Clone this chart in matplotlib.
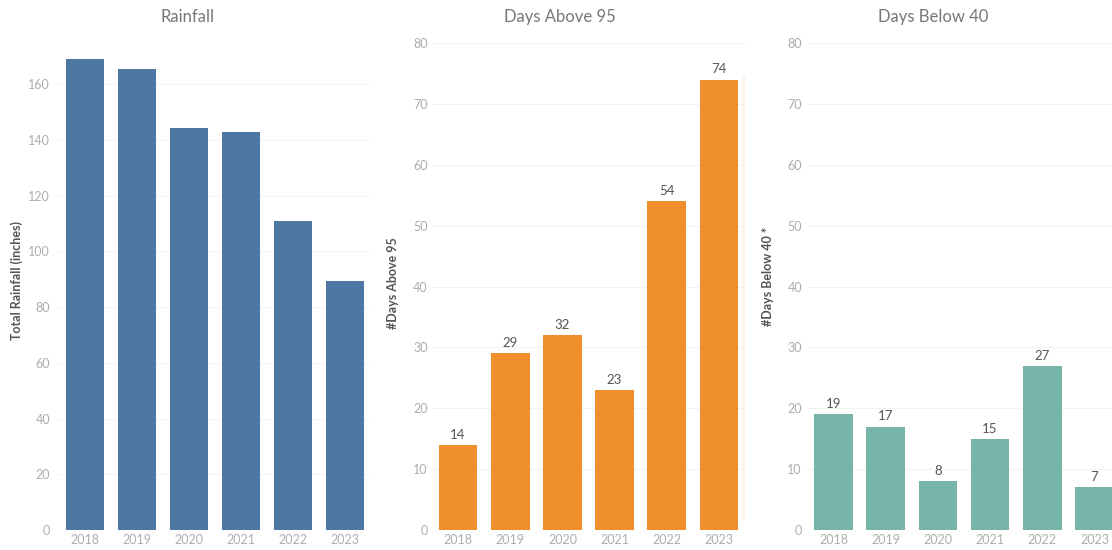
import matplotlib.pyplot as plt
from matplotlib.lines import Line2D

years = ['2018', '2019', '2020', '2021', '2022', '2023']
rainfall = [169, 165.5, 144.5, 143, 111, 89.5]
days_above_95 = [14, 29, 32, 23, 54, 74]
days_below_40 = [19, 17, 8, 15, 27, 7]

plt.rcParams['font.family'] = ['Lato', 'DejaVu Sans']

W, H = 1112, 550
fig = plt.figure(figsize=(W / 100, H / 100), dpi=100)
fig.patch.set_facecolor('white')


def make_axes(left, right, top=37, bottom=530):
    # pixel box -> figure fractions
    return fig.add_axes([left / W, 1 - bottom / H, (right - left) / W, (bottom - top) / H])


def style_axes(ax, ymax, ticks, ypad):
    ax.set_xlim(-0.5, 5.5)
    ax.set_ylim(0, ymax)
    ax.set_yticks(ticks)
    ax.set_xticks(range(len(years)))
    ax.set_xticklabels(years)
    for s in ax.spines.values():
        s.set_visible(False)
    ax.tick_params(axis='both', length=0, colors='#adadad', labelsize=9)
    ax.tick_params(axis='y', pad=ypad)
    ax.tick_params(axis='x', pad=3)
    ax.grid(axis='y', color='#f3f3f3', linewidth=0.8)
    ax.set_axisbelow(True)


# Rainfall
ax1 = make_axes(58.5, 371)
ax1.bar(range(len(years)), rainfall, width=0.73, color='#4e78a3')
style_axes(ax1, 177, range(0, 161, 20), 6)

# Days above 95
ax2 = make_axes(432, 745)
bars2 = ax2.bar(range(len(years)), days_above_95, width=0.74, color='#ef8e2d')
style_axes(ax2, 81, range(0, 81, 10), 3)
ax2.bar_label(bars2, labels=[str(v) for v in days_above_95], padding=3,
              fontsize=9.5, color='#555555')

# Days below 40
ax3 = make_axes(807.5, 1120.5)
bars3 = ax3.bar(range(len(years)), days_below_40, width=0.74, color='#76b3a9')
style_axes(ax3, 81, range(0, 81, 10), 4)
ax3.bar_label(bars3, labels=[str(v) for v in days_below_40], padding=3,
              fontsize=9.5, color='#555555')

# sheet titles
for x, t in [(188, 'Rainfall'), (560, 'Days Above 95'), (933, 'Days Below 40')]:
    fig.text(x / W, 1 - 17 / H, t, ha='center', va='center', fontsize=12, color='#777777')

# axis titles
for x, y, t in [(17, 281, 'Total Rainfall (inches)'),
                (393, 283, '#Days Above 95'),
                (768, 276, '#Days Below 40 *')]:
    fig.text(x / W, 1 - y / H, t, ha='center', va='center', rotation=90,
             fontsize=9, color='#555555', fontweight='bold')

# faint sheet border
fig.add_artist(Line2D([744 / W, 744 / W], [1 - 77 / H, 1 - 520 / H],
                      color='#fdeedb', linewidth=1.2, transform=fig.transFigure))

fig.savefig('out.png', dpi=100)
